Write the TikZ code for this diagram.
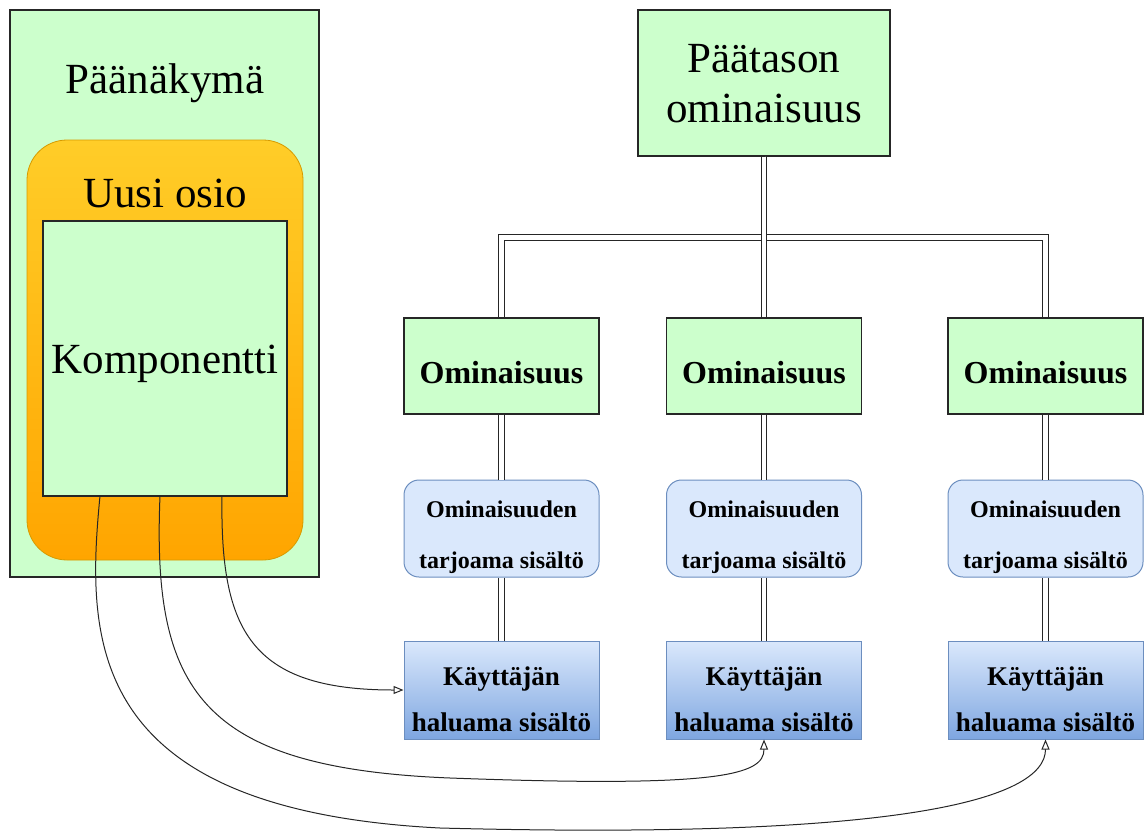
\documentclass[tikz,border=0pt]{standalone}
\usepackage{fontspec}
\setmainfont{Liberation Serif}
\usetikzlibrary{arrows.meta}

\definecolor{vihrea}{HTML}{CCFFCC}
\definecolor{sininen}{HTML}{DAE8FC}
\definecolor{sininenreuna}{HTML}{6C8EBF}
\definecolor{sininentumma}{HTML}{7EA6E0}
\definecolor{oranssiA}{HTML}{FFCD28}
\definecolor{oranssiB}{HTML}{FFA500}
\definecolor{oranssireuna}{HTML}{D79B00}

\tikzset{
	laatikko/.style = {draw=black!85, line width=1.2pt, fill=vihrea, inner sep=0pt},
	isoteksti/.style = {font=\fontsize{43}{49}\selectfont},
	ominaisuus/.style = {laatikko, minimum width=195, minimum height=96,
		text height=34pt, text depth=0pt,
		font=\fontsize{32}{36}\selectfont\bfseries},
	tarjoama/.style = {draw=sininenreuna, line width=1pt, fill=sininen, rounded corners=15,
		minimum width=195, minimum height=97, inner sep=0pt, align=center,
		text height=79pt, text depth=0pt,
		font=\fontsize{24}{51}\selectfont\bfseries},
	haluama/.style = {draw=sininenreuna, line width=1pt, top color=sininen, bottom color=sininentumma,
		minimum width=195, minimum height=98, inner sep=0pt, align=center,
		text height=82pt, text depth=0pt,
		font=\fontsize{27}{46}\selectfont\bfseries},
	kaksois/.style = {draw=black!85, line width=1.2pt, double=white, double distance=4.5pt},
	kayra/.style = {draw=black!85, line width=1pt, -{Triangle[open, length=10pt, width=8pt]}}
}

\begin{document}
\begin{tikzpicture}[x=1pt, y=-1pt]
	\useasboundingbox (0,0) rectangle (1145,832);

	% vasen puoli
	\node [laatikko, minimum width=309, minimum height=567] (paa) at (164.5,293.5) {};
	\node [isoteksti, anchor=base] (paateksti) at (165,94) {Päänäkymä};
	\node [draw=oranssireuna, line width=0.8pt, top color=oranssiA, bottom color=oranssiB,
		rounded corners=40, minimum width=276, minimum height=420] (osio) at (165,350) {};
	\node [isoteksti, anchor=base] (osioteksti) at (165,207) {Uusi osio};
	\node [laatikko, isoteksti, minimum width=244, minimum height=275,
		text height=29pt, text depth=0pt] (komp) at (165,358.5) {Komponentti};

	\coordinate (k1) at (100,496);
	\coordinate (k2) at (160,496);
	\coordinate (k3) at (222,496);

	% oikea puoli
	\node [laatikko, isoteksti, minimum width=252, minimum height=146, align=center,
		text height=78pt, text depth=0pt] (paataso) at (764,83) {Päätason\\ominaisuus};

	\foreach \i/\x in {1/501.5, 2/764, 3/1045.5} {
		\node [ominaisuus] (om\i) at (\x,366) {Ominaisuus};
		\node [tarjoama] (tar\i) at (\x,528.5) {Ominaisuuden\\tarjoama sisältö};
		\node [haluama] (kay\i) at (\x,690) {Käyttäjän\\haluama sisältö};
		\draw [kaksois] (om\i) -- (tar\i);
		\draw [kaksois] (tar\i) -- (kay\i);
	}

	\draw [kaksois] (paataso.south) -- ++(0,81) -| (om1.north);
	\draw [kaksois] (paataso.south) -- ++(0,81) -| (om3.north);
	\draw [kaksois] (paataso) -- (om2);

	% kaaret
	\draw [kayra] (k3) .. controls (220,630) and (250,690) .. (kay1.west);
	\draw [kayra] (k2) .. controls (152,690) and (200,768) .. (450,778)
		.. controls (720,788) and (764,775) .. (kay2.south);
	\draw [kayra] (k1) .. controls (86,640) and (85,810) .. (440,828)
		.. controls (900,840) and (1045.5,800) .. (kay3.south);
\end{tikzpicture}
\end{document}
